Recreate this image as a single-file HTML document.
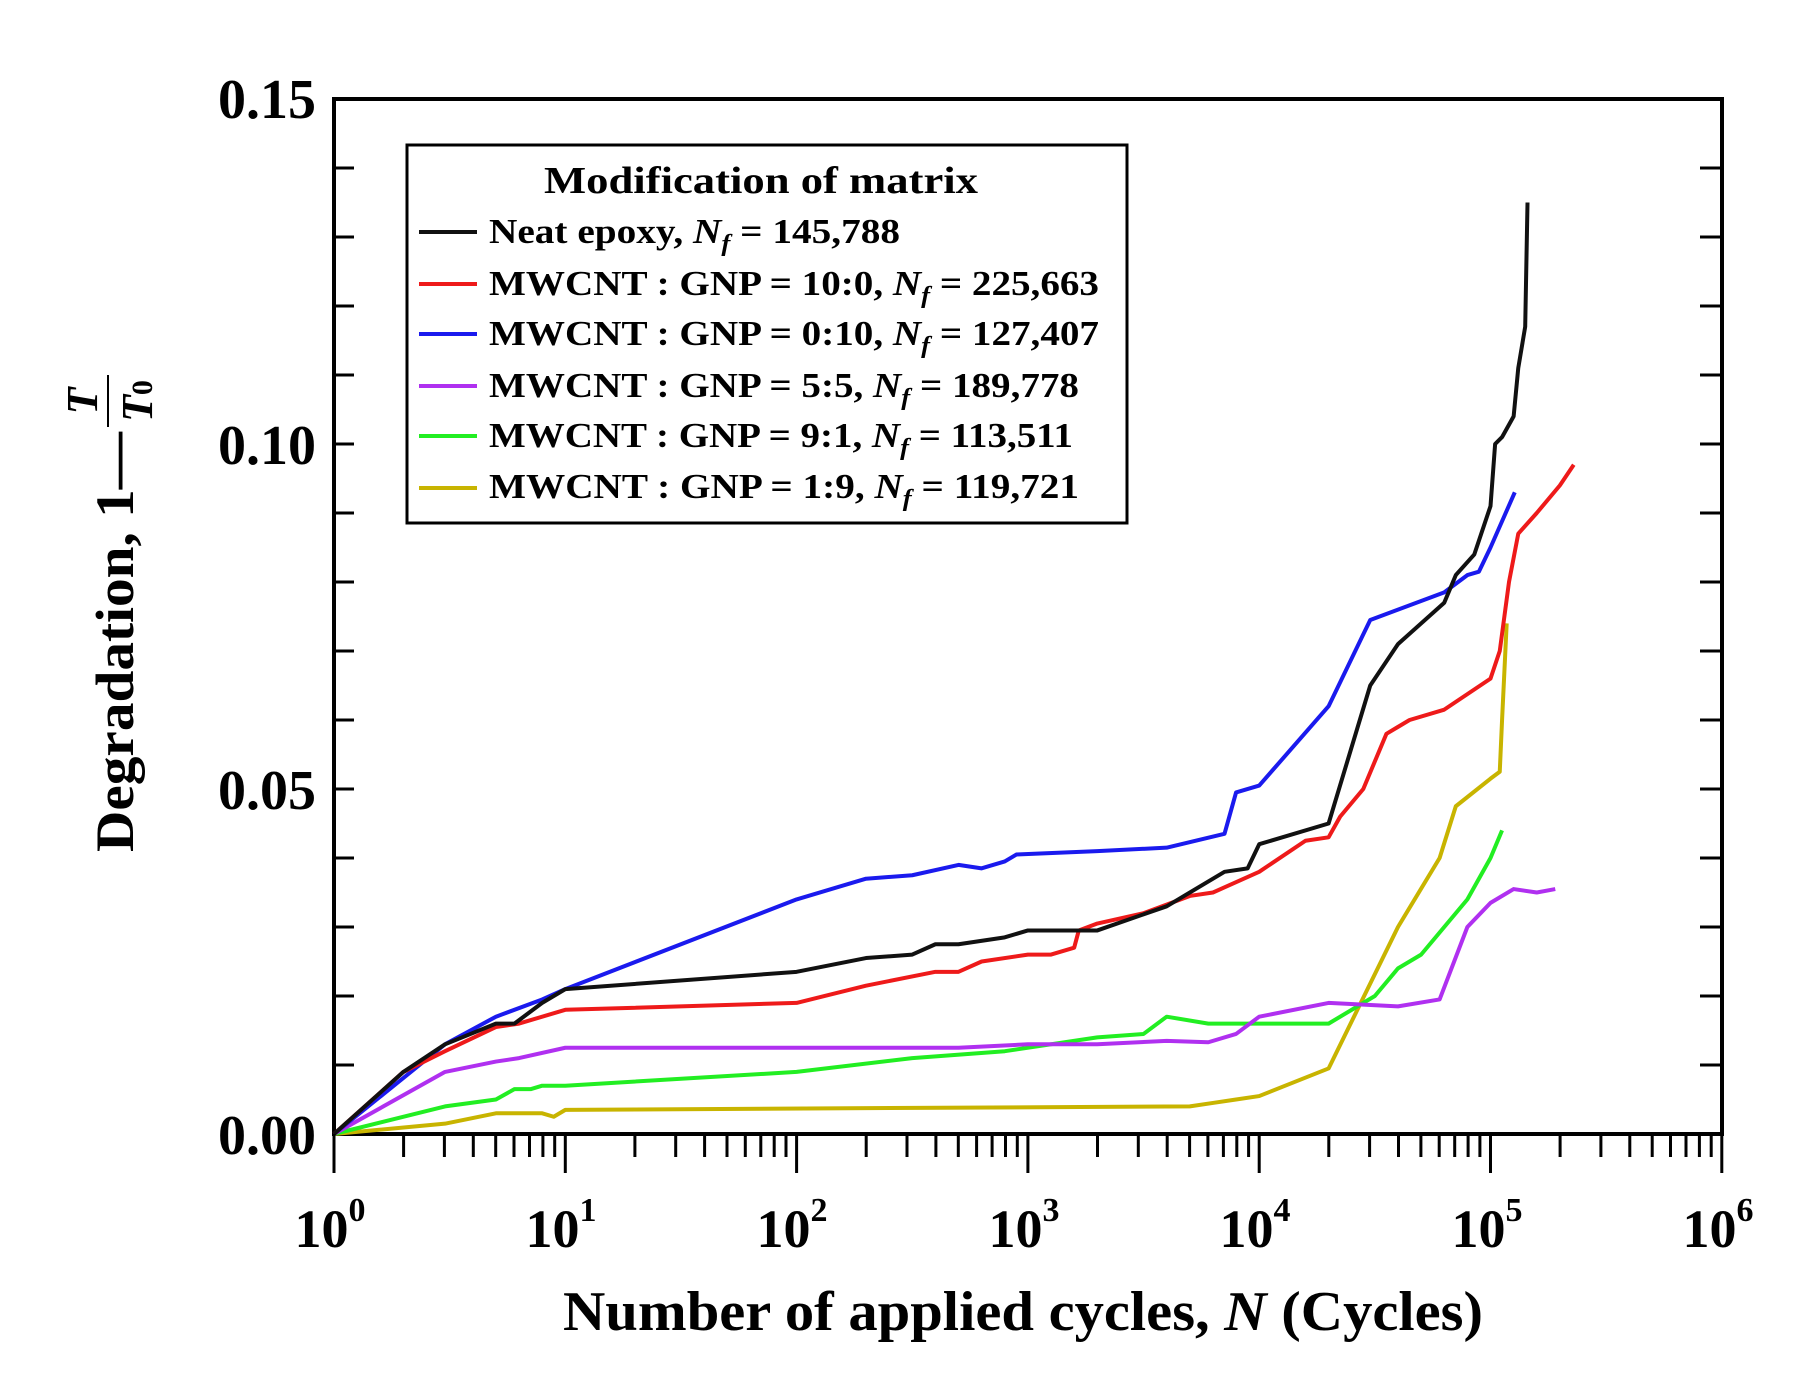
<!DOCTYPE html>
<html><head><meta charset="utf-8"><style>
html,body{margin:0;padding:0;background:#fff;}
svg{display:block;font-family:"Liberation Serif",serif;font-weight:bold;}
</style></head><body>
<svg width="1812" height="1398" viewBox="0 0 1812 1398" xmlns="http://www.w3.org/2000/svg">
<g stroke="#000" stroke-width="3" fill="none">
<path d="M334 168h20M334 237h20M334 306h20M334 375h20M334 444h20M334 513h20M334 582h20M334 651h20M334 720h20M334 789h20M334 858h20M334 927h20M334 996h20M334 1065h20"/>
<path d="M1722 168h-22M1722 237h-22M1722 306h-22M1722 375h-22M1722 444h-22M1722 513h-22M1722 582h-22M1722 651h-22M1722 720h-22M1722 789h-22M1722 858h-22M1722 927h-22M1722 996h-22M1722 1065h-22"/>
</g>
<rect x="334" y="99" width="1388" height="1035" fill="none" stroke="#000" stroke-width="4"/>
<g transform="translate(334 1134) scale(231.3 -6900)" fill="none" stroke-width="4" stroke-linejoin="round">
<polyline vector-effect="non-scaling-stroke" stroke="#c8b400" points="0,0 0.48,0.0015 0.7,0.003 0.9,0.003 0.95,0.0025 1,0.0035 3.7,0.004 3.8,0.0045 3.9,0.005 4,0.0055 4.3,0.0095 4.6,0.03 4.78,0.04 4.85,0.0475 5,0.0515 5.04,0.0525 5.05,0.06 5.07,0.074"/>
<polyline vector-effect="non-scaling-stroke" stroke="#22ee22" points="0,0 0.48,0.004 0.7,0.005 0.78,0.0065 0.85,0.0065 0.9,0.007 1,0.007 2,0.009 2.5,0.011 2.9,0.012 3.3,0.014 3.5,0.0145 3.6,0.017 3.78,0.016 4,0.016 4.3,0.016 4.5,0.02 4.6,0.024 4.7,0.026 4.8,0.03 4.9,0.034 5,0.04 5.05,0.044"/>
<polyline vector-effect="non-scaling-stroke" stroke="#b030f0" points="0,0 0.48,0.009 0.7,0.0105 0.8,0.011 1,0.0125 2.7,0.0125 3,0.013 3.3,0.013 3.6,0.0135 3.78,0.0133 3.9,0.0145 4,0.017 4.3,0.019 4.6,0.0185 4.78,0.0195 4.9,0.03 5,0.0335 5.1,0.0355 5.2,0.035 5.28,0.0355"/>
<polyline vector-effect="non-scaling-stroke" stroke="#1a1aee" points="0,0 0.48,0.013 0.7,0.017 0.9,0.0195 1,0.021 2,0.034 2.3,0.037 2.5,0.0375 2.7,0.039 2.8,0.0385 2.9,0.0395 2.95,0.0405 3.3,0.041 3.6,0.0415 3.85,0.0435 3.9,0.0495 4,0.0505 4.3,0.062 4.48,0.0745 4.8,0.0785 4.9,0.081 4.95,0.0815 5,0.085 5.105,0.093"/>
<polyline vector-effect="non-scaling-stroke" stroke="#ee1a1a" points="0,0 0.3,0.009 0.48,0.012 0.7,0.0155 0.8,0.016 1,0.018 2,0.019 2.3,0.0215 2.6,0.0235 2.7,0.0235 2.8,0.025 3,0.026 3.1,0.026 3.2,0.027 3.22,0.0295 3.3,0.0305 3.5,0.032 3.7,0.0345 3.8,0.035 4,0.038 4.2,0.0425 4.3,0.043 4.35,0.046 4.45,0.05 4.55,0.058 4.65,0.06 4.8,0.0615 5,0.066 5.04,0.07 5.08,0.08 5.12,0.087 5.2,0.09 5.3,0.094 5.36,0.097"/>
<polyline vector-effect="non-scaling-stroke" stroke="#111" points="0,0 0.3,0.009 0.48,0.013 0.7,0.016 0.78,0.016 0.9,0.019 1,0.021 2,0.0235 2.3,0.0255 2.5,0.026 2.6,0.0275 2.7,0.0275 2.9,0.0285 3,0.0295 3.3,0.0295 3.6,0.033 3.85,0.038 3.95,0.0385 4,0.042 4.3,0.045 4.48,0.065 4.6,0.071 4.8,0.077 4.85,0.081 4.93,0.084 5,0.091 5.02,0.1 5.05,0.101 5.1,0.104 5.12,0.111 5.15,0.117 5.16,0.135"/>
</g>
<g font-size="56" text-anchor="end">
<text x="316" y="118">0.15</text>
<text x="316" y="464">0.10</text>
<text x="316" y="809">0.05</text>
<text x="316" y="1154">0.00</text>
</g>
<g font-size="54" text-anchor="middle">
<text x="330" y="1247">10<tspan font-size="34" dy="-26">0</tspan></text>
<text x="561" y="1247">10<tspan font-size="34" dy="-26">1</tspan></text>
<text x="792" y="1247">10<tspan font-size="34" dy="-26">2</tspan></text>
<text x="1024" y="1247">10<tspan font-size="34" dy="-26">3</tspan></text>
<text x="1255" y="1247">10<tspan font-size="34" dy="-26">4</tspan></text>
<text x="1487" y="1247">10<tspan font-size="34" dy="-26">5</tspan></text>
<text x="1718" y="1247">10<tspan font-size="34" dy="-26">6</tspan></text>
</g>
<text x="563" y="1330" font-size="56" textLength="920" lengthAdjust="spacingAndGlyphs">Number of applied cycles, <tspan font-style="italic">N</tspan>   (Cycles)</text>
<g transform="translate(133 852) rotate(-90)">
<text x="0" y="0" font-size="54" textLength="420" lengthAdjust="spacingAndGlyphs">Degradation, 1—</text>
<text x="451" y="-36" font-size="44" font-style="italic" text-anchor="middle">T</text>
<line x1="425" y1="-25" x2="477" y2="-25" stroke="#000" stroke-width="2"/>
<text x="451" y="19" font-size="44" font-style="italic" text-anchor="middle">T<tspan font-size="30" font-style="normal">0</tspan></text>
</g>
<rect x="407" y="145" width="720" height="378" fill="#fff" stroke="#000" stroke-width="3"/>
<text x="544" y="193" font-size="38" textLength="434" lengthAdjust="spacingAndGlyphs">Modification of matrix</text>
<g stroke-width="4">
<line x1="419" y1="232" x2="477" y2="232" stroke="#111"/>
<line x1="419" y1="284" x2="477" y2="284" stroke="#ee1a1a"/>
<line x1="419" y1="334" x2="477" y2="334" stroke="#1a1aee"/>
<line x1="419" y1="386" x2="477" y2="386" stroke="#b030f0"/>
<line x1="419" y1="436" x2="477" y2="436" stroke="#22ee22"/>
<line x1="419" y1="488" x2="477" y2="488" stroke="#c8b400"/>
</g>
<g font-size="35">
<text x="489" y="243" textLength="411" lengthAdjust="spacingAndGlyphs">Neat epoxy, <tspan font-style="italic">N<tspan font-size="24" dy="8">f</tspan></tspan><tspan dy="-8">  = 145,788</tspan></text>
<text x="489" y="295" textLength="610" lengthAdjust="spacingAndGlyphs">MWCNT : GNP = 10:0, <tspan font-style="italic">N<tspan font-size="24" dy="8">f</tspan></tspan><tspan dy="-8">  = 225,663</tspan></text>
<text x="489" y="345" textLength="610" lengthAdjust="spacingAndGlyphs">MWCNT : GNP = 0:10, <tspan font-style="italic">N<tspan font-size="24" dy="8">f</tspan></tspan><tspan dy="-8">  = 127,407</tspan></text>
<text x="489" y="397" textLength="590" lengthAdjust="spacingAndGlyphs">MWCNT : GNP = 5:5, <tspan font-style="italic">N<tspan font-size="24" dy="8">f</tspan></tspan><tspan dy="-8">  = 189,778</tspan></text>
<text x="489" y="447" textLength="584" lengthAdjust="spacingAndGlyphs">MWCNT : GNP = 9:1, <tspan font-style="italic">N<tspan font-size="24" dy="8">f</tspan></tspan><tspan dy="-8">  = 113,511</tspan></text>
<text x="489" y="498" textLength="590" lengthAdjust="spacingAndGlyphs">MWCNT : GNP = 1:9, <tspan font-style="italic">N<tspan font-size="24" dy="8">f</tspan></tspan><tspan dy="-8">  = 119,721</tspan></text>
</g>
<g stroke="#000" stroke-width="3">
<path d="
M334 1134v39 M565.3 1134v39 M796.6 1134v39 M1027.9 1134v39 M1259.2 1134v39 M1490.5 1134v39 M1721.8 1134v39
M403.6 1134v23 M444.4 1134v23 M473.3 1134v23 M495.7 1134v23 M514 1134v23 M529.5 1134v23 M542.9 1134v23 M554.7 1134v23
M634.9 1134v23 M675.7 1134v23 M704.6 1134v23 M727 1134v23 M745.3 1134v23 M760.8 1134v23 M774.2 1134v23 M786 1134v23
M866.2 1134v23 M907 1134v23 M935.9 1134v23 M958.3 1134v23 M976.6 1134v23 M992.1 1134v23 M1005.5 1134v23 M1017.3 1134v23
M1097.5 1134v23 M1138.3 1134v23 M1167.2 1134v23 M1189.6 1134v23 M1207.9 1134v23 M1223.4 1134v23 M1236.8 1134v23 M1248.6 1134v23
M1328.8 1134v23 M1369.6 1134v23 M1398.5 1134v23 M1420.9 1134v23 M1439.2 1134v23 M1454.7 1134v23 M1468.1 1134v23 M1479.9 1134v23
M1560.1 1134v23 M1600.9 1134v23 M1629.8 1134v23 M1652.2 1134v23 M1670.5 1134v23 M1686 1134v23 M1699.4 1134v23 M1711.2 1134v23"/>
</g>
</svg>
</body></html>
